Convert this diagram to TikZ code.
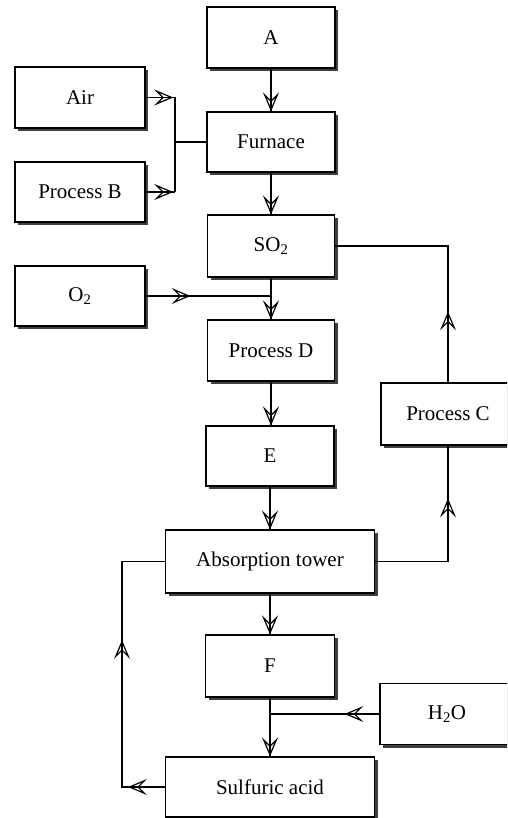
\documentclass[tikz,border=0pt]{standalone}
\usepackage{fontspec}
\setmainfont{Liberation Serif}
\usetikzlibrary{arrows.meta,shadows,decorations.markings,calc}
\begin{document}
\begin{tikzpicture}[x=1pt,y=-1pt,
  box/.style={draw,line width=1.1pt,fill=white,rectangle,inner sep=0pt,
    font=\fontsize{21}{24}\selectfont,
    drop shadow={shadow xshift=3pt,shadow yshift=-3pt,fill=black!75,opacity=1}},
  barb/.tip={Stealth[open,length=19pt,width=16pt,inset=8pt,line width=1.2pt]},
  conn/.style={line width=1.5pt},
  tipat/.style={postaction={decorate},decoration={markings,
      mark=at position #1 with {\arrow{barb}}}},
  tiptwo/.style 2 args={postaction={decorate},decoration={markings,
      mark=at position #1 with {\arrow{barb}},
      mark=at position #2 with {\arrow{barb}}}}
]
\useasboundingbox (0,0) rectangle (507,818);
\clip (0,0) rectangle (507,818);
% nodes
\node[box,minimum width=128pt,minimum height=61pt] (A) at (271,37.5) {A};
\node[box,minimum width=130pt,minimum height=61pt] (air) at (80,97.5) {Air};
\node[box,minimum width=128pt,minimum height=60pt] (fur) at (271,142) {Furnace};
\node[box,minimum width=130pt,minimum height=60pt] (pb) at (80,192) {Process B};
\node[box,minimum width=127pt,minimum height=62pt] (so2) at (271,246) {SO\textsubscript{2}};
\node[box,minimum width=130pt,minimum height=60pt] (o2) at (80,296) {O\textsubscript{2}};
\node[box,minimum width=127pt,minimum height=61pt] (pd) at (271,350.5) {Process D};
\node[box,minimum width=128pt,minimum height=60pt] (E) at (270,456) {E};
\node[box,minimum width=134pt,minimum height=62pt] (pc) at (448,414) {Process C};
\node[box,minimum width=209pt,minimum height=63pt] (abs) at (270,561.5) {Absorption tower};
\node[box,minimum width=129pt,minimum height=62pt] (F) at (270,666) {F};
\node[box,minimum width=134pt,minimum height=61pt] (h2o) at (447,714) {H\textsubscript{2}O};
\node[box,minimum width=209pt,minimum height=60pt] (sa) at (270,787) {Sulfuric acid};
% junction coordinates
\coordinate (j1) at (175,97.5);
\coordinate (j2) at (175,192);
\coordinate (jf) at (175,142);
\coordinate (jo) at (so2.south |- o2.east);
\coordinate (jh) at (F.south |- h2o.west);
\coordinate (lc) at (122,787);
% connectors
\draw[conn,tipat=1] (A.south) -- (fur.north);
\draw[conn,tipat=0.94] (air.east) -- (j1);
\draw[conn,tipat=0.94] (pb.east) -- (j2);
\draw[conn] (j1) -- (j2);
\draw[conn] (jf) -- (fur.west);
\draw[conn,tipat=1] (fur.south) -- (so2.north);
\draw[conn,tipat=1] (so2.south) -- (pd.north);
\draw[conn,tipat=45pt] (o2.east) -- (jo);
\draw[conn,tipat=71pt] (pc.north) |- (so2.east);
\draw[conn,tipat=1] (pd.south) -- (pd.south |- E.north);
\draw[conn,tipat=1] (E.south) -- (abs.north);
\draw[conn,tipat=136pt] (abs.east) -| (pc.south);
\draw[conn,tipat=1] (abs.south) -- (F.north);
\draw[conn,tipat=1] (F.south) -- (sa.north);
\draw[conn,tipat=35pt] (h2o.west) -- (jh);
\draw[conn,tiptwo={37pt}{190pt}] (sa.west) -- (lc) |- (abs.west);
\end{tikzpicture}
\end{document}
